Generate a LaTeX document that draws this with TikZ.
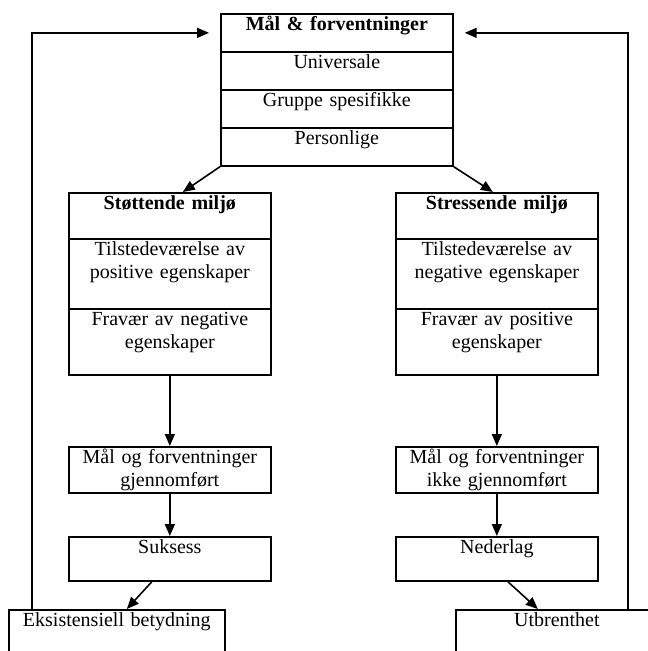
\documentclass[tikz,border=0pt]{standalone}
\usepackage{fontspec}
\setmainfont{Liberation Serif}
\usepackage{tikz}
\usetikzlibrary{calc,arrows.meta,positioning}
\tikzset{
  ar/.style={-{Triangle[length=12pt,width=10pt]},line width=1.6pt},
  cell/.style={draw,line width=1.7pt,inner sep=0pt,anchor=north west,align=center,text height=17pt}
}

\begin{document}
\begin{tikzpicture}[x=1pt,y=-1pt,font=\fontsize{20}{23}\selectfont]
\useasboundingbox (0,0) rectangle (648,651);
\clip (0,0) rectangle (648,651);
% goals box
\node[cell,text width=232pt,text depth=21pt] (title) at (220,13) {\textbf{Mål \& forventninger}};
\node[cell,text width=232pt,text depth=21pt] (uni) at (220,51) {Universale};
\node[cell,text width=232pt,text depth=21pt] (grp) at (220,89) {Gruppe spesifikke};
\node[cell,text width=232pt,text depth=21pt] (per) at (220,127) {Personlige};
% supportive side
\node[cell,text width=202pt,text depth=29pt] (stot) at (68,192) {\textbf{Støttende miljø}};
\node[cell,text width=202pt,text depth=53pt] (tilL) at (68,238) {Tilstedeværelse av\\positive egenskaper};
\node[cell,text width=202pt,text depth=49pt] (fraL) at (68,308) {Fravær av negative\\egenskaper};
\node[cell,text width=202pt,text depth=29pt] (gjL) at (68,446) {Mål og forventninger\\gjennomført};
\node[cell,text width=202pt,text depth=27pt] (suk) at (68,536) {Suksess};
\node[cell,text width=216pt,text depth=60pt] (eks) at (8,609) {Eksistensiell betydning};
% stressful side
\node[cell,text width=202pt,text depth=29pt] (stre) at (395,192) {\textbf{Stressende miljø}};
\node[cell,text width=202pt,text depth=53pt] (tilR) at (395,238) {Tilstedeværelse av\\negative egenskaper};
\node[cell,text width=202pt,text depth=49pt] (fraR) at (395,308) {Fravær av positive\\egenskaper};
\node[cell,text width=202pt,text depth=29pt] (gjR) at (395,446) {Mål og forventninger\\ikke gjennomført};
\node[cell,text width=202pt,text depth=27pt] (ned) at (395,536) {Nederlag};
\node[cell,text width=202pt,text depth=60pt] (utb) at (455,609) {Utbrenthet};
% arrows
\draw[ar] (per.south west) -- ([xshift=13pt]stot.north);
\draw[ar] (per.south east) -- ([xshift=-4pt]stre.north);
\draw[ar] (fraL.south) -- (gjL.north);
\draw[ar] (gjL.south) -- (suk.north);
\draw[ar] ([xshift=-18pt]suk.south) -- ([xshift=10pt]eks.north);
\draw[ar] (fraR.south) -- (gjR.north);
\draw[ar] (gjR.south) -- (ned.north);
\draw[ar] ([xshift=11pt]ned.south) -- ([xshift=-19pt]utb.north);
% feedback
\draw[ar] ([xshift=24pt]eks.north west) |- ([xshift=-11pt]title.west);
\draw[ar] ([xshift=-31pt]utb.north east) |- ([xshift=11pt]title.east);
\end{tikzpicture}
\end{document}
